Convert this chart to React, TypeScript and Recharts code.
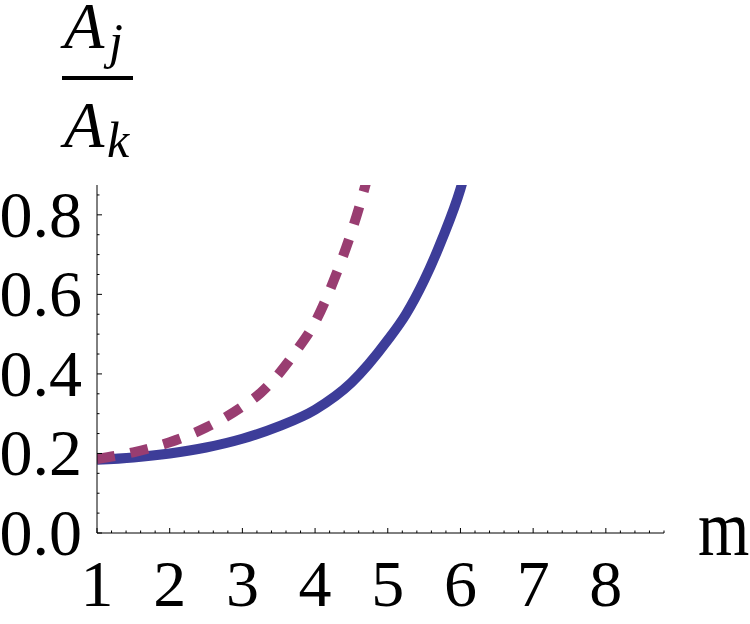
import { Line, LineChart, XAxis, YAxis } from "recharts";

// m values and amplitude ratios
const mSolid = [1, 1.5, 2, 2.5, 3, 3.5, 4, 4.5, 5, 5.25, 5.5, 5.75, 6, 6.1];
const ratioSolid = [
  0.184, 0.19, 0.2, 0.215, 0.237, 0.268, 0.31, 0.378, 0.485, 0.55, 0.635,
  0.74, 0.865, 0.93,
];

const mDashed = [1, 1.5, 2, 2.5, 3, 3.25, 3.5, 3.75, 4, 4.25, 4.5, 4.6, 4.7, 4.8];
const ratioDashed = [
  0.186, 0.203, 0.228, 0.265, 0.318, 0.352, 0.4, 0.46, 0.53, 0.632, 0.757,
  0.815, 0.88, 0.95,
];

// axis ticks
const xMajor = [1, 2, 3, 4, 5, 6, 7, 8];
const xLabels = ["1", "2", "3", "4", "5", "6", "7", "8"];
const xMinor = [
  1.2, 1.4, 1.6, 1.8, 2.2, 2.4, 2.6, 2.8, 3.2, 3.4, 3.6, 3.8, 4.2, 4.4, 4.6,
  4.8, 5.2, 5.4, 5.6, 5.8, 6.2, 6.4, 6.6, 6.8, 7.2, 7.4, 7.6, 7.8, 8.2, 8.4,
  8.6, 8.8,
];
const yMajor = [0, 0.2, 0.4, 0.6, 0.8];
const yLabels = ["0.0", "0.2", "0.4", "0.6", "0.8"];
const yMinor = [
  0.05, 0.1, 0.15, 0.25, 0.3, 0.35, 0.45, 0.5, 0.55, 0.65, 0.7, 0.75, 0.85,
];

const solidData = mSolid.map((m, i) => ({ m, r: ratioSolid[i] }));
const dashedData = mDashed.map((m, i) => ({ m, r: ratioDashed[i] }));

const font = { fontFamily: "Liberation Serif" };

const XTick = (props: any) => {
  const { x, y, payload } = props;
  const i = xMajor.indexOf(payload.value);
  return (
    <g>
      <line x1={x} x2={x} y1={y} y2={y - (i >= 0 ? 5 : 2.5)} stroke="#000" />
      {i >= 0 && (
        <text x={x} y={y + 73} textAnchor="middle" style={font} fontSize={66} fill="#000">
          {xLabels[i]}
        </text>
      )}
    </g>
  );
};

const YTick = (props: any) => {
  const { x, y, payload } = props;
  const i = yMajor.indexOf(payload.value);
  return (
    <g>
      <line x1={x} x2={x + (i >= 0 ? 5 : 2.5)} y1={y} y2={y} stroke="#000" />
      {i >= 0 && (
        <text x={x - 15} y={y + 22} textAnchor="end" style={font} fontSize={66} fill="#000">
          {yLabels[i]}
        </text>
      )}
    </g>
  );
};

// A_j / A_k fraction above the y axis
const RatioLabel = () => (
  <g style={font} fill="#000" fontStyle="italic">
    <text x={64} y={48} fontSize={66}>A</text>
    <text x={109} y={58} fontSize={50}>j</text>
    <line x1={62} x2={133} y1={78} y2={78} stroke="#000" strokeWidth={4} />
    <text x={64} y={147} fontSize={66}>A</text>
    <text x={107} y={157} fontSize={50}>k</text>
  </g>
);

const MLabel = () => (
  <text
    x={0}
    y={0}
    transform="translate(698,555) scale(0.97,1.18)"
    style={font}
    fontSize={68}
    fill="#000"
  >
    m
  </text>
);

export default function App() {
  return (
    <div style={{ width: 750, height: 624, background: "#fff" }}>
      <style>{"body{margin:0}"}</style>
      <LineChart
        width={750}
        height={624}
        margin={{ top: 185, right: 86, bottom: 0, left: 0 }}
      >
        <XAxis
          dataKey="m"
          type="number"
          domain={[1, 8.8]}
          ticks={[...xMajor, ...xMinor].sort((a, b) => a - b)}
          interval={0}
          height={91}
          tickSize={0}
          tickMargin={0}
          tickLine={false}
          tick={<XTick />}
          axisLine={{ stroke: "#000", strokeWidth: 1 }}
          allowDataOverflow
          label={{ content: <MLabel /> }}
        />
        <YAxis
          type="number"
          domain={[0, 0.875]}
          ticks={[...yMajor, ...yMinor].sort((a, b) => a - b)}
          interval={0}
          width={97}
          tickSize={0}
          tickMargin={0}
          tickLine={false}
          tick={<YTick />}
          axisLine={{ stroke: "#000", strokeWidth: 1 }}
          allowDataOverflow
          label={{ content: <RatioLabel /> }}
        />
        <Line
          data={solidData}
          dataKey="r"
          type="monotone"
          stroke="#3D3D99"
          strokeWidth={10}
          dot={false}
          activeDot={false}
          isAnimationActive={false}
        />
        <Line
          data={dashedData}
          dataKey="r"
          type="monotone"
          stroke="#993D71"
          strokeWidth={10}
          strokeDasharray="18 16"
          dot={false}
          activeDot={false}
          isAnimationActive={false}
        />
      </LineChart>
    </div>
  );
}
